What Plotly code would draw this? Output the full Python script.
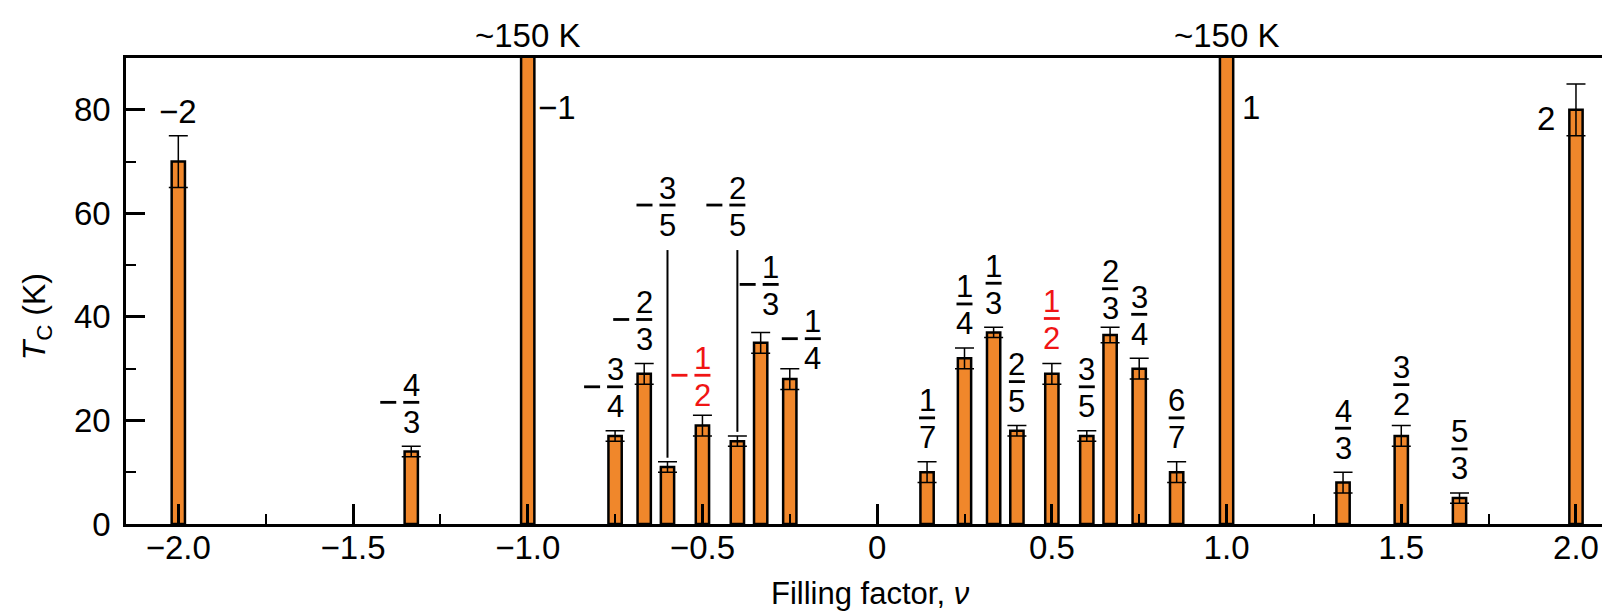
import plotly.graph_objects as go
from fractions import Fraction

# ---------------- data ----------------
nu_labels = ["-2", "-4/3", "-1", "-3/4", "-2/3", "-3/5", "-1/2", "-2/5", "-1/3", "-1/4",
             "1/7", "1/4", "1/3", "2/5", "1/2", "3/5", "2/3", "3/4", "6/7", "1",
             "4/3", "3/2", "5/3", "2"]
tc_values = [70, 14, 150, 17, 29, 11, 19, 16, 35, 28,
             10, 32, 37, 18, 29, 17, 36.5, 30, 10, 150,
             8, 17, 5, 80]
tc_errors = [5, 1, None, 1, 2, 1, 2, 1, 2, 2,
             2, 2, 1, 1, 2, 1, 1.5, 2, 2, None,
             2, 2, 1, 5]
highlight = ["-1/2", "1/2"]
offscale_text = "~150 K"
x_tickvals = [-2.0, -1.5, -1.0, -0.5, 0, 0.5, 1.0, 1.5, 2.0]
x_ticktext = ["\u22122.0", "\u22121.5", "\u22121.0", "\u22120.5", "0", "0.5", "1.0", "1.5", "2.0"]
x_minorvals = [-1.75, -1.25, -0.75, -0.25, 0.25, 0.75, 1.25, 1.75]
y_tickvals = [0, 20, 40, 60, 80]
y_minorvals = [10, 30, 50, 70]

# ---------------- styling / label layout ----------------
ORANGE = "#F0872B"
RED = "#F01414"
FONT = "Liberation Sans"
FS_TICK = 33
FS_FRAC = 31
BAR_W = 0.038
PX_PER_Y = 466 / 90.0

label_adjust = {
    "-1/3": (10, 48),
    "-1/4": (23, 30),
    "-1/2": (0, 40),
    "2/3": (0, 38.5),
    "1/2": (0, 45),
    "3/2": (0, 41),
}
DEFAULT_DY = 44
leader_labels = {"-3/5": 61.6, "-2/5": 61.6}
LEADER_GAP_PX = 45

x_vals = [float(Fraction(s)) for s in nu_labels]

fig = go.Figure()

meas_x = [x for x, e in zip(x_vals, tc_errors) if e is not None]
meas_y = [v for v, e in zip(tc_values, tc_errors) if e is not None]
meas_e = [e for e in tc_errors if e is not None]
off_x = [x for x, e in zip(x_vals, tc_errors) if e is None]
off_y = [v for v, e in zip(tc_values, tc_errors) if e is None]

fig.add_trace(go.Bar(
    x=off_x, y=off_y, width=BAR_W,
    marker=dict(color=ORANGE, line=dict(color="black", width=2.5)),
    showlegend=False, hoverinfo="skip"))
fig.add_trace(go.Bar(
    x=meas_x, y=meas_y, width=BAR_W,
    marker=dict(color=ORANGE, line=dict(color="black", width=2.5)),
    error_y=dict(type="data", array=meas_e, symmetric=True, color="black",
                 thickness=1.5, width=9.5),
    showlegend=False, hoverinfo="skip"))

annotations = []
shapes = []


def text_ann(x, y, text, color="black", xshift=0, yshift=0, size=FS_FRAC, xanchor="center"):
    annotations.append(dict(x=x, y=y, xref="x", yref="y", text=text, showarrow=False,
                            xshift=xshift, yshift=yshift, xanchor=xanchor, yanchor="middle",
                            font=dict(family=FONT, size=size, color=color)))


def pix_line(xa, ya, x0, x1, y0, y1, color, width):
    shapes.append(dict(type="line", xref="x", yref="y", xsizemode="pixel", ysizemode="pixel",
                       xanchor=xa, yanchor=ya, x0=x0, x1=x1, y0=y0, y1=y1,
                       line=dict(color=color, width=width), layer="above"))


for lab, x, v, e in zip(nu_labels, x_vals, tc_values, tc_errors):
    color = RED if lab in highlight else "black"
    neg = lab.startswith("-")
    body = lab.lstrip("-")
    if "/" not in body:
        continue
    num, den = body.split("/")
    if lab in leader_labels:
        ya = leader_labels[lab]
        dx, dy = 0, 0
        shapes.append(dict(type="line", xref="x", yref="y", x0=x, x1=x,
                           y0=v + e + 0.8, y1=ya - LEADER_GAP_PX / PX_PER_Y,
                           line=dict(color="black", width=2), layer="above"))
    else:
        ya = v + e
        dx, dy = label_adjust.get(lab, (0, DEFAULT_DY))
    text_ann(x, ya, num, color, xshift=dx, yshift=dy + 17)
    text_ann(x, ya, den, color, xshift=dx, yshift=dy - 20)
    pix_line(x, ya, dx - 8, dx + 8, dy, dy, color, 2.8)
    if neg:
        pix_line(x, ya, dx - 31, dx - 15, dy, dy, color, 2.8)

# integer labels
text_ann(-2, 75, "\u22122", yshift=24, size=FS_TICK)
text_ann(2, 80, "2", xshift=-30, yshift=-9, size=FS_TICK)
text_ann(-1, 80.5, "\u22121", xshift=29, size=FS_TICK)
text_ann(1, 80.5, "1", xshift=24, size=FS_TICK)

# off-scale labels
for x, v in zip(off_x, off_y):
    annotations.append(dict(x=x, y=1, xref="x", yref="paper", text=offscale_text, showarrow=False,
                            yshift=23, xanchor="center", yanchor="middle",
                            font=dict(family=FONT, size=FS_TICK, color="black")))

# axis titles
annotations.append(dict(x=0.5, y=-0.15, xref="paper", yref="paper",
                        text="Filling factor, <i>\u03bd</i>", showarrow=False,
                        xanchor="center", yanchor="middle",
                        font=dict(family=FONT, size=31, color="black")))
annotations.append(dict(x=-0.06, y=0.445, xref="paper", yref="paper",
                        text="<i>T</i><sub>C</sub> (K)", showarrow=False, textangle=-90,
                        xanchor="center", yanchor="middle",
                        font=dict(family=FONT, size=32, color="black")))

fig.update_layout(
    width=1610, height=613,
    margin=dict(l=118, r=4, t=50, b=97),
    paper_bgcolor="white", plot_bgcolor="white",
    barmode="overlay",
    font=dict(family=FONT, size=FS_TICK, color="black"),
    annotations=annotations, shapes=shapes,
)
fig.update_xaxes(
    range=[-2.1497, 2.1088], showgrid=False, zeroline=False,
    showline=True, linecolor="black", linewidth=3, mirror=True,
    ticks="inside", ticklen=20, tickwidth=2.5, tickcolor="black",
    tickvals=x_tickvals, ticktext=x_ticktext, ticklabelstandoff=-8,
    tickfont=dict(family=FONT, size=FS_TICK, color="black"),
    minor=dict(tickmode="array", tickvals=x_minorvals, ticks="inside", ticklen=10,
               tickwidth=2, tickcolor="black", showgrid=False),
)
fig.update_yaxes(
    range=[0, 90], showgrid=False, zeroline=False,
    showline=True, linecolor="black", linewidth=2.5, mirror=False,
    ticks="inside", ticklen=19, tickwidth=2.5, tickcolor="black",
    tickvals=y_tickvals, ticklabelstandoff=6,
    tickfont=dict(family=FONT, size=FS_TICK, color="black"),
    minor=dict(tickmode="array", tickvals=y_minorvals, ticks="inside", ticklen=10,
               tickwidth=2, tickcolor="black", showgrid=False),
)

fig.write_html("out.html")
